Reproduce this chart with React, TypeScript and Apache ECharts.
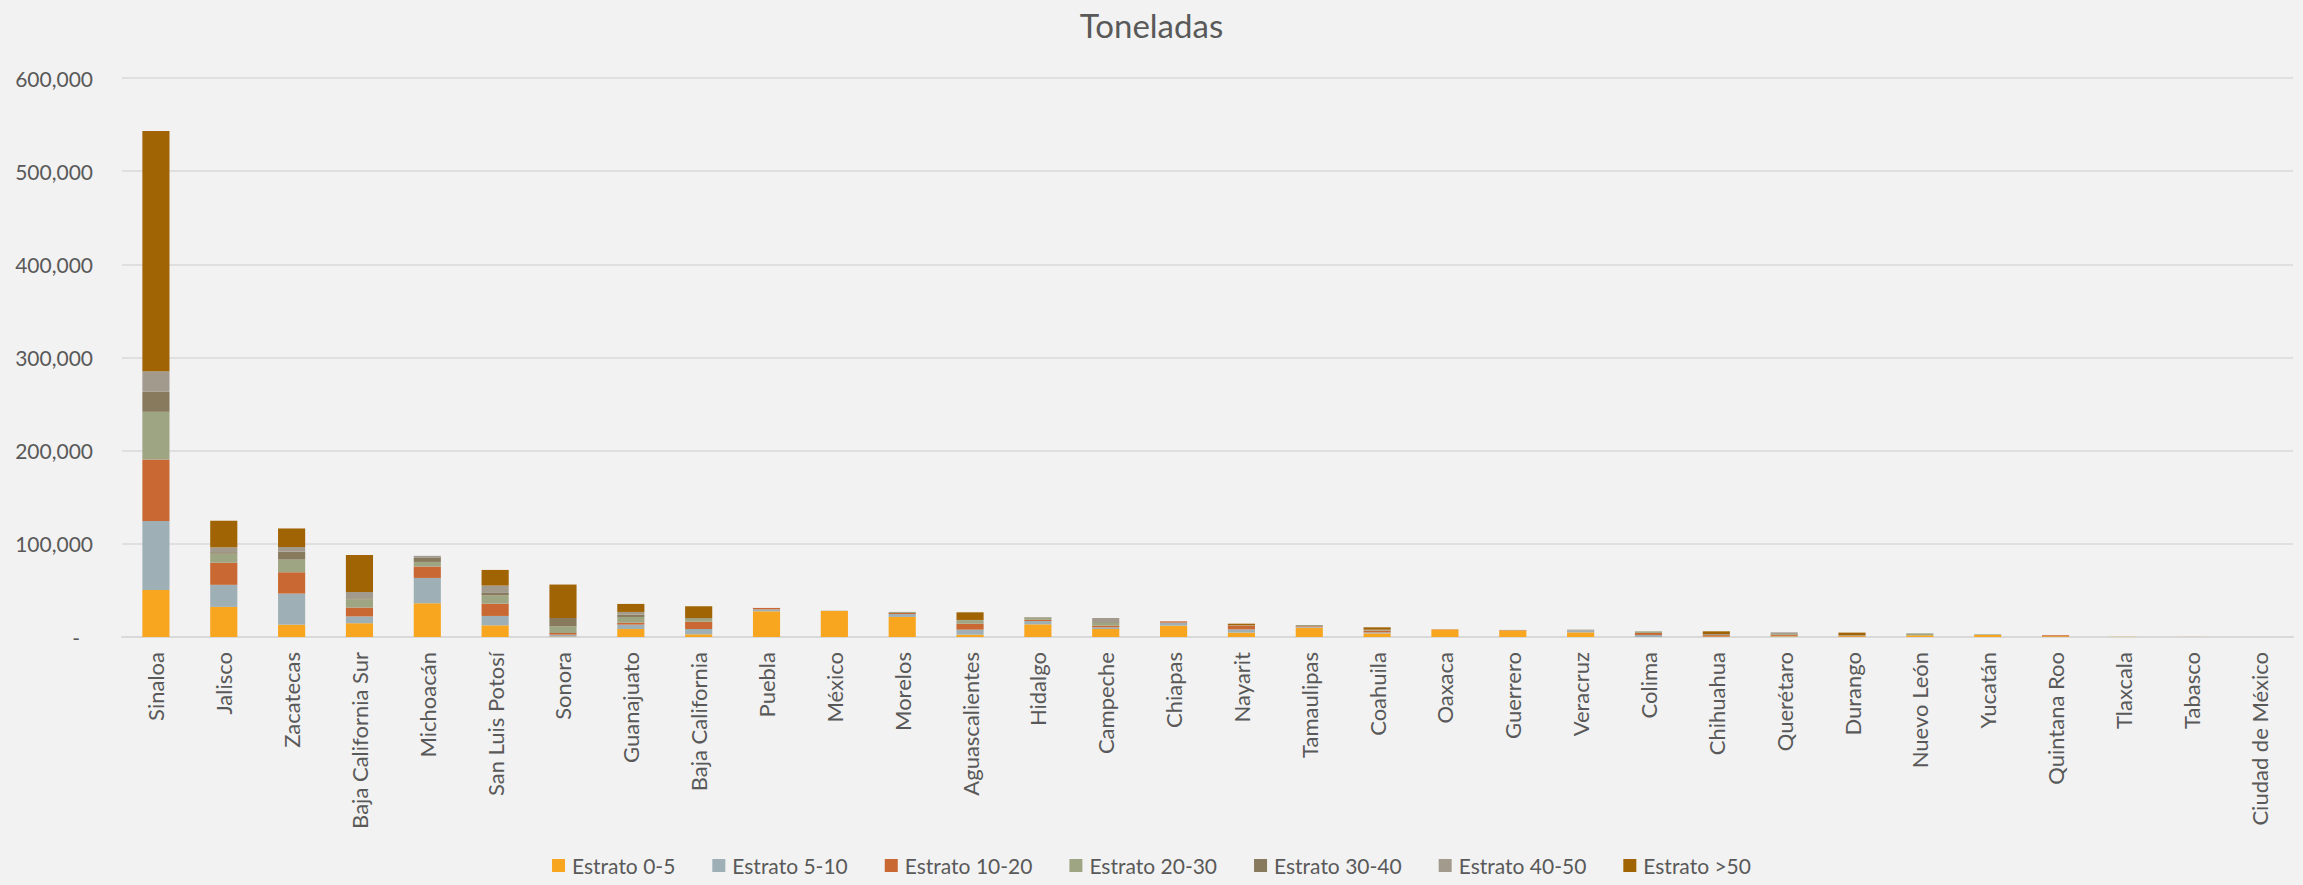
import React, { useEffect, useRef } from "react";
import * as echarts from "echarts";

const categories = [
  "Sinaloa", "Jalisco", "Zacatecas", "Baja California Sur", "Michoacán", "San Luis Potosí",
  "Sonora", "Guanajuato", "Baja California", "Puebla", "México", "Morelos", "Aguascalientes",
  "Hidalgo", "Campeche", "Chiapas", "Nayarit", "Tamaulipas", "Coahuila", "Oaxaca", "Guerrero",
  "Veracruz", "Colima", "Chihuahua", "Querétaro", "Durango", "Nuevo León", "Yucatán",
  "Quintana Roo", "Tlaxcala", "Tabasco", "Ciudad de México",
];

const seriesNames = [
  "Estrato 0-5", "Estrato 5-10", "Estrato 10-20", "Estrato 20-30",
  "Estrato 30-40", "Estrato 40-50", "Estrato >50",
];

const estrato0_5 = [50400, 32300, 13200, 14800, 36200, 12500, 500, 8600, 2900, 27600, 28000, 21500, 2500, 13600, 8600, 12200, 4700, 10000, 3900, 8000, 7000, 5000, 0, 500, 700, 800, 1800, 2200, 800, 200, 100, 30];
const estrato5_10 = [74000, 23700, 33400, 7300, 27200, 10100, 2000, 4700, 5700, 2100, 300, 3200, 5400, 3600, 1800, 3200, 3500, 1100, 1100, 0, 0, 1800, 2200, 0, 500, 0, 0, 0, 0, 0, 0, 0];
const estrato10_20 = [66200, 23700, 22900, 9500, 12200, 13200, 1800, 2100, 7900, 1500, 0, 1100, 6400, 1400, 1800, 1400, 4300, 700, 1800, 300, 400, 0, 2200, 1500, 1100, 500, 0, 0, 1000, 0, 0, 0];
const estrato20_30 = [51100, 9800, 13600, 8900, 5000, 9000, 7200, 6100, 3200, 0, 0, 1100, 3600, 2200, 3200, 0, 400, 1100, 700, 0, 200, 0, 1700, 500, 1000, 0, 2100, 700, 0, 0, 0, 0];
const estrato30_40 = [21500, 1500, 8600, 1000, 4300, 2500, 8900, 2500, 700, 0, 0, 0, 400, 300, 700, 0, 0, 0, 400, 0, 0, 0, 0, 700, 0, 0, 0, 0, 0, 0, 0, 0];
const estrato40_50 = [22100, 5200, 4900, 6900, 2200, 7900, 0, 2900, 0, 0, 0, 0, 0, 400, 4300, 0, 0, 0, 0, 0, 0, 1100, 0, 0, 1700, 500, 0, 0, 0, 0, 0, 0];
const estratoMas50 = [257900, 28600, 19900, 39500, 0, 16800, 35900, 8600, 12600, 0, 0, 0, 8200, 0, 0, 0, 1400, 0, 2500, 0, 0, 0, 0, 2900, 0, 2900, 0, 0, 0, 0, 0, 0];

const seriesData = [estrato0_5, estrato5_10, estrato10_20, estrato20_30, estrato30_40, estrato40_50, estratoMas50];
const colors = ["#F8A51F", "#9EB0B6", "#C96832", "#9EA582", "#887A5C", "#A39A8E", "#A16404"];

const yTicks = { min: 0, max: 600000, interval: 100000 };

const FONT = "Lato, 'Open Sans', sans-serif";
const TEXT = "#595959";

export default function App() {
  const ref = useRef<HTMLDivElement>(null);
  useEffect(() => {
    document.body.style.margin = "0";
    document.body.style.background = "#F2F2F2";
    if (!ref.current) return;
    const chart = echarts.init(ref.current, undefined, { renderer: "svg" });
    chart.setOption({
      animation: false,
      backgroundColor: "#F2F2F2",
      textStyle: { fontFamily: FONT },
      color: colors,
      title: {
        text: "Toneladas",
        left: "center",
        top: 3,
        textStyle: { fontFamily: FONT, fontSize: 33, fontWeight: "normal", color: TEXT },
      },
      legend: {
        bottom: 4,
        left: "center",
        itemWidth: 13,
        itemHeight: 13,
        itemGap: 37,
        icon: "rect",
        textStyle: { fontFamily: FONT, fontSize: 21, color: TEXT, padding: [0, 0, 0, 2] },
        data: seriesNames,
      },
      grid: { left: 122, right: 10, top: 78, bottom: 248, containLabel: false },
      xAxis: {
        type: "category",
        data: categories,
        axisLine: { lineStyle: { color: "#D9D9D9", width: 2 } },
        axisTick: { show: false },
        axisLabel: {
          interval: 0,
          rotate: 90,
          margin: 15,
          fontFamily: FONT,
          fontSize: 22,
          color: TEXT,
        },
      },
      yAxis: {
        type: "value",
        min: yTicks.min,
        max: yTicks.max,
        interval: yTicks.interval,
        axisLine: { show: false },
        axisTick: { show: false },
        splitLine: { lineStyle: { color: "#D9D9D9", width: 1.5 } },
        axisLabel: {
          margin: 29,
          fontFamily: FONT,
          fontSize: 21,
          color: TEXT,
          formatter: (v: number) => (v === 0 ? "{z|-}" : v.toLocaleString("en-US")),
          rich: { z: { fontFamily: FONT, fontSize: 21, color: TEXT, padding: [0, 13, 0, 0] } },
        },
      },
      series: seriesNames.map((name, i) => ({
        name,
        type: "bar",
        stack: "total",
        barWidth: "40%",
        data: seriesData[i],
        itemStyle: { color: colors[i], borderWidth: 0 },
      })),
    });
    return () => chart.dispose();
  }, []);
  return <div ref={ref} style={{ width: 2303, height: 885 }} />;
}
